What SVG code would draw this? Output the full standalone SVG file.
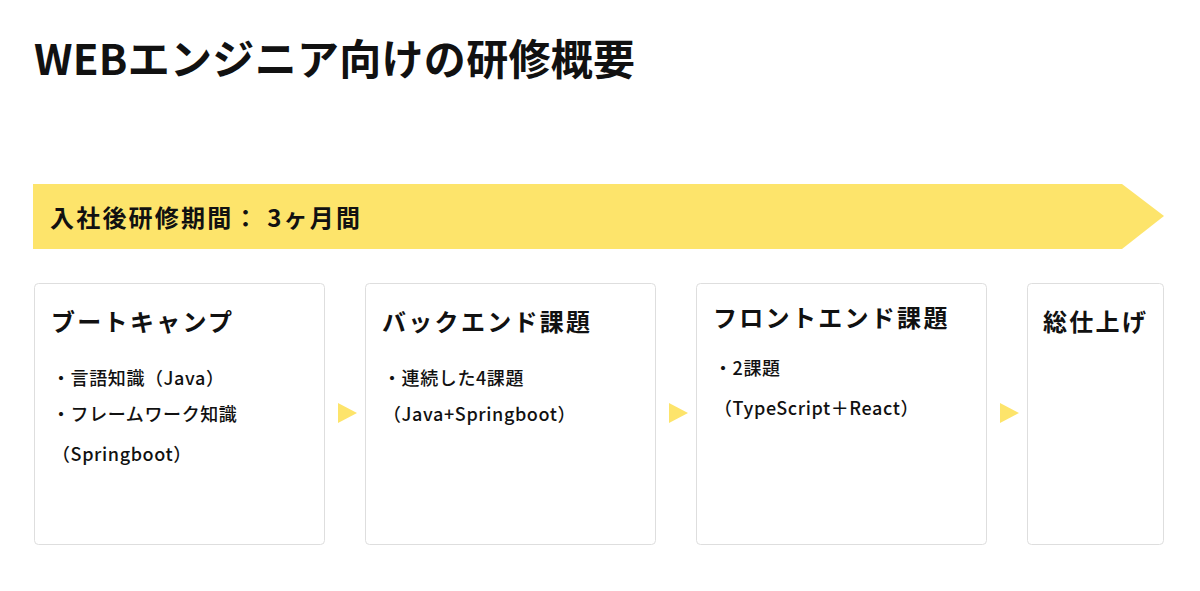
<svg xmlns="http://www.w3.org/2000/svg" width="1200" height="591" viewBox="0 0 1200 591">
<style>
text{font-family:"Noto Sans CJK JP","Noto Sans",sans-serif;fill:#111}
.title{font-size:42px;font-weight:700;letter-spacing:0.3px}
.band{font-size:24px;font-weight:700;letter-spacing:2.2px}
.box{fill:#fff;stroke:#dedede;stroke-width:1}
.h{font-size:24px;font-weight:700;letter-spacing:2.3px}
.b{font-size:18px;font-weight:500;letter-spacing:0.6px}
.arr{fill:#fde46b}
</style>
<rect width="1200" height="591" fill="#fff"/>
<text class="title" x="34" y="75">WEBエンジニア向けの研修概要</text>
<g id="band">
<polygon class="arr" points="33,184 1122,184 1164,216 1122,249 33,249"/>
<text class="band" x="50" y="227">入社後研修期間： 3ヶ月間</text>
</g>
<g id="bootcamp">
<rect class="box" x="34.5" y="283.5" width="290" height="261" rx="4"/>
<text class="h" x="51" y="331">ブートキャンプ</text>
<text class="b" x="52" y="385">・言語知識（Java）</text>
<text class="b" x="52" y="421">・フレームワーク知識</text>
<text class="b" x="52" y="461">（Springboot）</text>
</g>
<g id="backend">
<rect class="box" x="365.5" y="283.5" width="290" height="261" rx="4"/>
<text class="h" x="382" y="331">バックエンド課題</text>
<text class="b" x="383" y="385">・連続した4課題</text>
<text class="b" x="383" y="421">（Java+Springboot）</text>
</g>
<g id="frontend">
<rect class="box" x="696.5" y="283.5" width="290" height="261" rx="4"/>
<text class="h" x="713" y="327">フロントエンド課題</text>
<text class="b" x="714" y="375">・2課題</text>
<text class="b" x="714" y="415">（TypeScript＋React）</text>
</g>
<g id="final">
<rect class="box" x="1027.5" y="283.5" width="136" height="261" rx="4"/>
<text class="h" x="1043" y="331">総仕上げ</text>
</g>
<g id="connectors">
<polygon class="arr" points="338,403 357,413 338,423"/>
<polygon class="arr" points="669,403 688,413 669,423"/>
<polygon class="arr" points="1000,403 1019,413 1000,423"/>
</g>
</svg>
